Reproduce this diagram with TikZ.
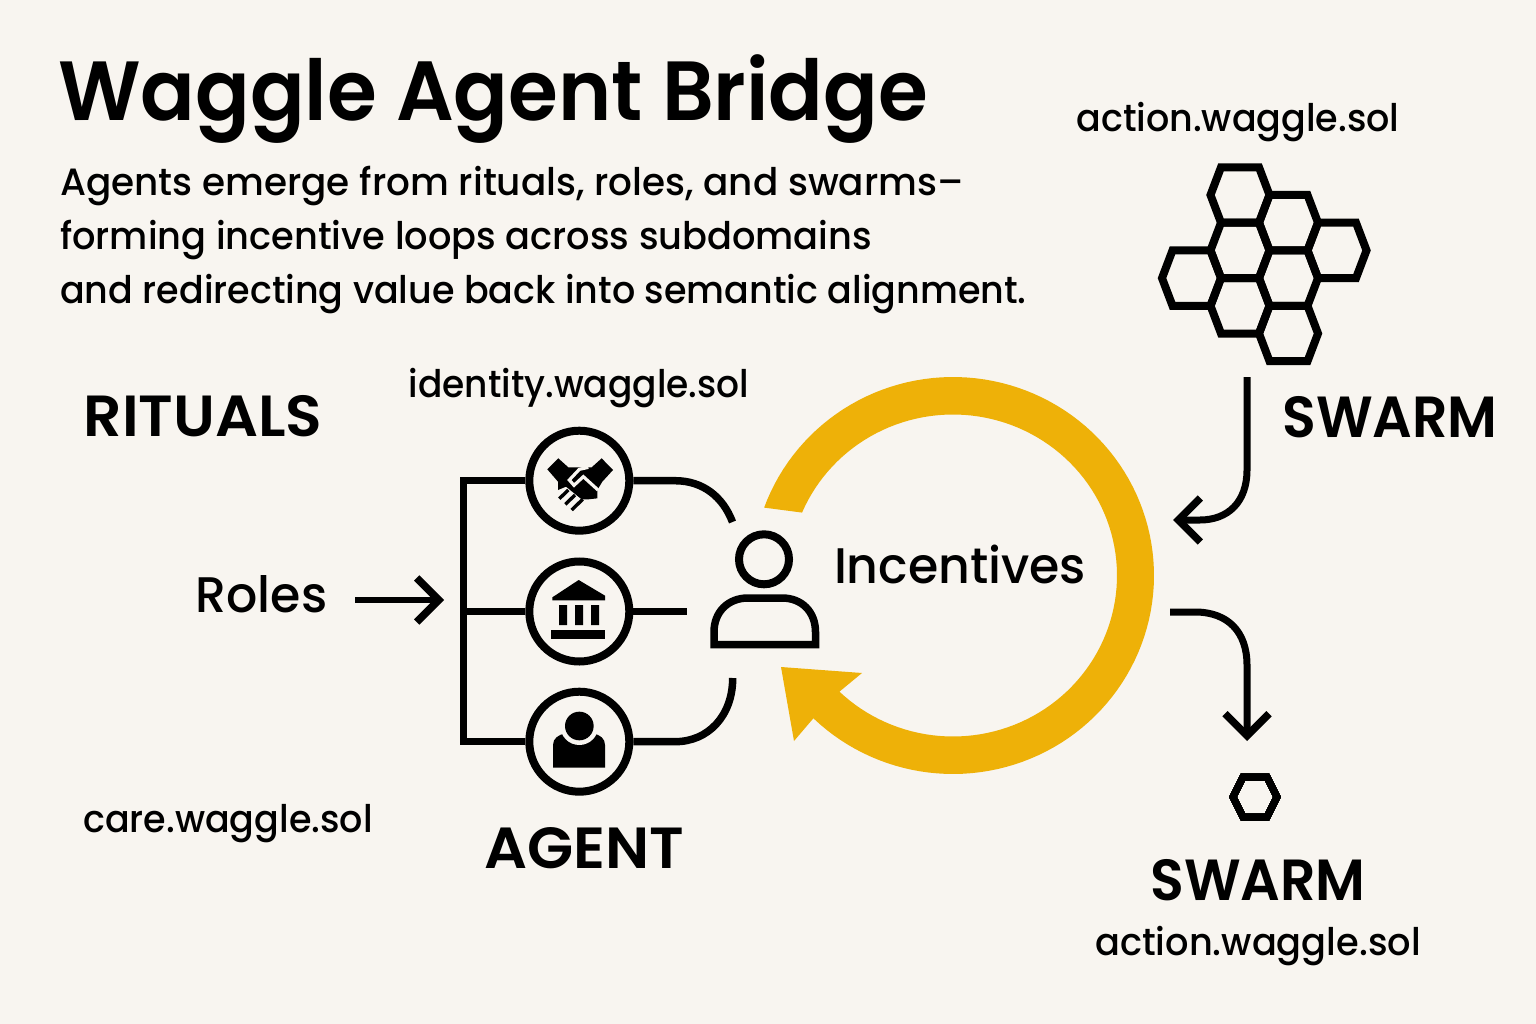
\documentclass[tikz,border=0pt]{standalone}
\usepackage{fontspec}
\setmainfont{Poppins}
\newfontfamily\semi[FakeStretch=0.96]{Poppins SemiBold}
\newfontfamily\semiN[FakeStretch=0.955]{Poppins SemiBold}
\newfontfamily\semiW[FakeStretch=1.035]{Poppins SemiBold}
\newfontfamily\medi[FakeStretch=0.96]{Poppins Medium}
\newfontfamily\mediA[FakeStretch=0.983]{Poppins Medium}
\newfontfamily\mediB[FakeStretch=0.967]{Poppins Medium}
\newfontfamily\mediC[FakeStretch=0.98]{Poppins Medium}
\newfontfamily\mediD[FakeStretch=0.947]{Poppins Medium}
\usetikzlibrary{arrows.meta}
\definecolor{paper}{HTML}{F8F5F0}
\definecolor{gold}{HTML}{EEB108}
\tikzset{
  lbl/.style={inner sep=0pt,font=\medi\fontsize{38}{44}\selectfont,anchor=base},
  head/.style={inner sep=0pt,font=\semiN\fontsize{58}{64}\selectfont,anchor=base},
  headw/.style={inner sep=0pt,font=\semiW\fontsize{58}{64}\selectfont,anchor=base},
  ink/.style={line width=7.5pt,draw=black,line join=miter},
  ring/.style={circle,draw=black,line width=8pt,minimum size=100pt,inner sep=0pt},
  hexline/.style={draw=black,line width=8pt,line join=miter},
  barb/.style={-{Straight Barb[length=22pt,width=44pt,line width=7.5pt]}},
}
\newcommand\hexcell[2]{\draw[hexline] ({#1-29.5},{#2}) -- ({#1-19},{#2-27.7}) -- ({#1+19},{#2-27.7}) -- ({#1+29.5},{#2}) -- ({#1+19},{#2+27.7}) -- ({#1-19},{#2+27.7}) -- cycle;}
\begin{document}
\begin{tikzpicture}[x=1pt,y=-1pt]
\useasboundingbox (0,0) rectangle (1536,1024);
\fill[paper] (0,0) rectangle (1536,1024);
\node[inner sep=0pt,anchor=base west,font=\semi\fontsize{84}{90}\selectfont] (title) at (58,121) {Waggle Agent Bridge};
\node[lbl,anchor=base west,font=\mediA\fontsize{38}{44}\selectfont] (s1) at (60,196) {Agents emerge from rituals, roles, and swarms–};
\node[lbl,anchor=base west,font=\mediB\fontsize{38}{44}\selectfont] (s2) at (60,250) {forming incentive loops across subdomains};
\node[lbl,anchor=base west] (s3) at (60,303) {and redirecting value back into semantic alignment.};
\node[lbl] (a1) at (1238,132) {action.waggle.sol};
\node[lbl,font=\mediD\fontsize{38}{44}\selectfont] (id) at (579,397) {identity.waggle.sol};
\node[lbl] (care) at (228,832) {care.waggle.sol};
\node[lbl,font=\mediB\fontsize{38}{44}\selectfont] (a2) at (1258,955) {action.waggle.sol};
\node[headw] (rit) at (203,436) {RITUALS};
\node[head] (sw1) at (1390,437) {SWARM};
\node[headw] (ag) at (584,868) {AGENT};
\node[head] (sw2) at (1258,900) {SWARM};
\node[lbl,font=\mediC\fontsize{50}{56}\selectfont] (roles) at (261.5,612) {Roles};
\node[lbl,font=\mediC\fontsize{50}{56}\selectfont] (inc) at (960,583) {Incentives};
% hex cluster
\foreach \px/\py in {1240/195,1288.5/222.7,1337/250.4,1240/250.4,1288.5/278.1,1191.5/278.1,1240/305.8,1288.5/333.5}
  \hexcell{\px}{\py}
\draw[hexline,line width=7pt] (1233,797) -- (1243,777) -- (1267,777) -- (1277,797) -- (1267,817) -- (1243,817) -- cycle;
% ring
\fill[gold] plot[domain=-160:134,samples=120] ({953+201*cos(\x)},{575.5+198.5*sin(\x)})
  -- (794,741) -- (781,667) -- (862,673) -- (839,692)
  -- plot[domain=134:-157,samples=120] ({953+164*cos(\x)},{575.5+161*sin(\x)}) -- cycle;
% circles
\node[ring] (c1) at (579.3,480.7) {};
\node[ring] (c2) at (579.3,611.5) {};
\node[ring] (c3) at (579.3,741.7) {};
% connectors
\coordinate (busT) at (463.7,480.7);
\coordinate (busM) at (463.7,611.5);
\coordinate (busB) at (463.7,741.7);
\coordinate (endT) at (732.5,522);
\coordinate (endM) at (687,611.5);
\coordinate (endB) at (732.7,678);
\draw[ink] (c1.west) -- (busT) -- (busB) -- (c3.west);
\draw[ink] (busM) -- (c2.west);
\draw[ink] (c1.east) -- (675,480.7) .. controls (703,480.7) and (723,497) .. (endT);
\draw[ink] (c2.east) -- (endM);
\draw[ink] (c3.east) -- (675,741.7) .. controls (708,741.7) and (732.7,716) .. (endB);
\begin{scope}[shift={(440,410)},x=0.33333pt,y=-0.33333pt]
% bank
\fill (337,562) -- (416,510) -- (495,557) -- (495,571) -- (337,571) -- cycle;
\fill (357,585) rectangle (381,645) (405,585) rectangle (429,645) (453,585) rectangle (477,645);
\fill (333,660) rectangle (495,687);
% person icon
\fill (339,1073) -- (339,1005) .. controls (339,985) and (355,975) .. (375,970) -- (460,970) .. controls (480,975) and (495,985) .. (495,1005) -- (495,1073) -- cycle;
\fill[paper] (418,948) circle (57);
\fill (418,948) circle (43);
% handshake
\fill (322,178) -- (355,145) -- (385,172) -- (455,172) -- (485,145) -- (519,180) -- (487,215) -- (472,240) -- (472,265) -- (445,268) -- (425,268) -- (378,230) -- (354,240) -- (354,215) -- cycle;
\draw[line width=3.4pt] (358,266) -- (385,240) (376,283) -- (405,255) (395,300) -- (428,268);
\draw[paper,line width=3.2pt,line join=miter] (445,172) -- (418,178) -- (388,210) -- (402,226) -- (430,200) -- (474,240);
\end{scope}
% person
\node[circle,draw=black,line width=8pt,minimum size=50pt,inner sep=0pt] (phead) at (764,559.3) {};
\draw[ink] (714,644.5) -- (714,632) .. controls (714,612) and (728,598) .. (748,598) -- (782,598) .. controls (802,598) and (815.5,612) .. (815.5,632) -- (815.5,644.5) -- cycle;
% arrows
\coordinate (rTail) at (355,600);
\coordinate (rTip) at (444,600);
\draw[line width=6pt,barb] (rTail) -- (rTip);
\coordinate (s1a) at (1247,377);
\coordinate (s1b) at (1173,520);
\draw[line width=7pt,barb] (s1a) -- (1247,470) .. controls (1247,502) and (1228,520) .. (1200,520) -- (s1b);
\coordinate (s2a) at (1170,612);
\coordinate (s2b) at (1247,741);
\draw[line width=7pt,barb] (s2a) -- (1195,612) .. controls (1228,612) and (1247,632) .. (1247,665) -- (s2b);
\end{tikzpicture}
\end{document}
